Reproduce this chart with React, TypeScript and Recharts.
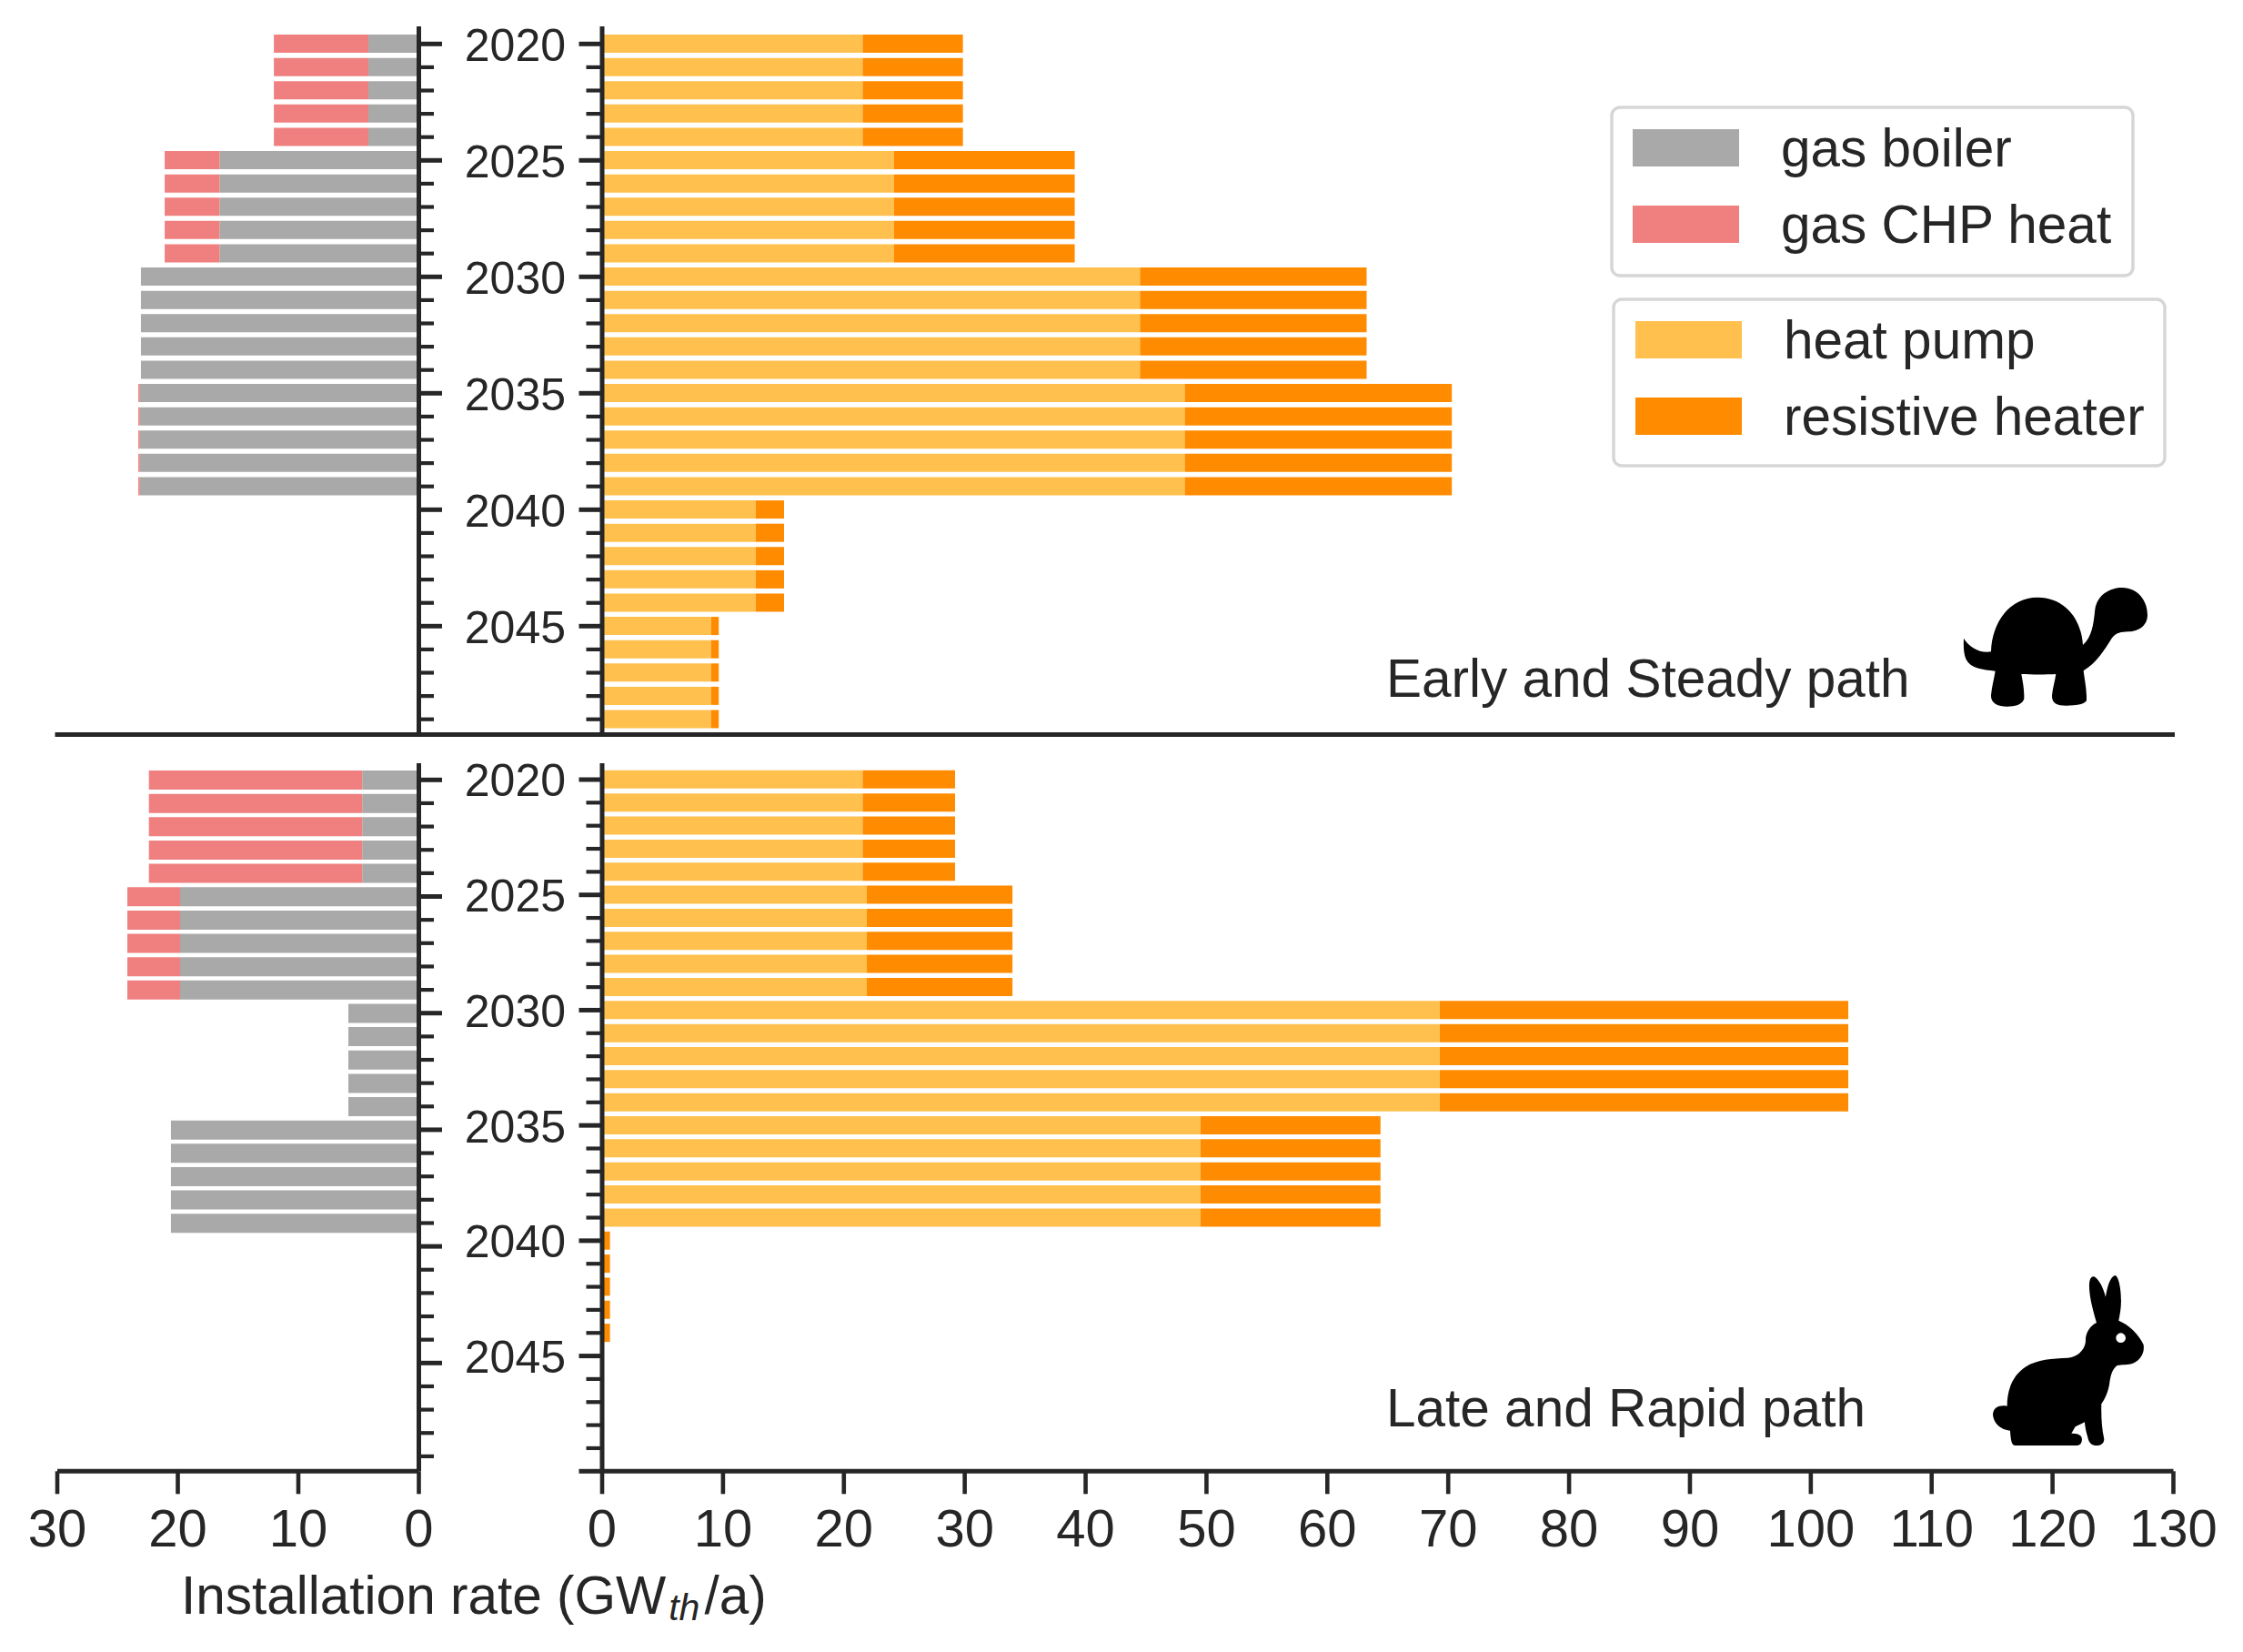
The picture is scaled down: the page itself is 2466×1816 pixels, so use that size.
import { BarChart, Bar, XAxis, YAxis } from "recharts";

const INK = "#262626";
const FONT = "'Liberation Sans', Arial, sans-serif";

const YEARS = [
	2020, 2021, 2022, 2023, 2024, 2025, 2026, 2027, 2028, 2029, 2030, 2031, 2032, 2033, 2034,
	2035, 2036, 2037, 2038, 2039, 2040, 2041, 2042, 2043, 2044, 2045, 2046, 2047, 2048, 2049,
];
const YEAR_TICKS = YEARS;
const YEAR_TICKS_TO_2050 = [...YEARS, 2050];
const LEFT_TICKS = [0, 10, 20, 30];
const RIGHT_TICKS = [0, 10, 20, 30, 40, 50, 60, 70, 80, 90, 100, 110, 120, 130];

// one value per five year period, 2020-24 up to 2045-49
const EARLY_BOILER = [4.19, 16.54, 23.06, 23.15, 0, 0];
const EARLY_CHP = [7.84, 4.55, 0, 0.13, 0, 0];
const EARLY_HEAT_PUMP = [21.55, 24.15, 44.5, 48.2, 12.7, 9.0];
const EARLY_RESISTIVE = [8.3, 14.95, 18.75, 22.1, 2.35, 0.65];

const LATE_BOILER = [4.7, 19.81, 5.85, 20.57, 0, 0];
const LATE_CHP = [17.7, 4.38, 0, 0, 0, 0];
const LATE_HEAT_PUMP = [21.55, 21.9, 69.3, 49.5, 0, 0];
const LATE_RESISTIVE = [7.65, 12.05, 33.8, 14.9, 0.65, 0];

const COLORS = {
	boiler: "#a9a9a9",
	chp: "#f08080",
	heatPump: "#ffc04d",
	resistive: "#ff8c00",
};

const GAS_LEGEND = [
	{ label: "gas boiler", color: COLORS.boiler },
	{ label: "gas CHP heat", color: COLORS.chp },
];
const ELECTRIC_LEGEND = [
	{ label: "heat pump", color: COLORS.heatPump },
	{ label: "resistive heater", color: COLORS.resistive },
];

function buildRows(a: number[], b: number[]) {
	return YEARS.map((year, i) => {
		const period = Math.floor(i / 5);
		return { year, first: a[period], second: b[period] };
	});
}

function LeftTick({ x, y, payload }: any) {
	const major = payload.value % 5 === 0;
	return (
		<line
			x1={x}
			x2={x + (major ? 25.5 : 16.5)}
			y1={y}
			y2={y}
			stroke={INK}
			strokeWidth={major ? 5 : 4.2}
		/>
	);
}

function RightTick({ x, y, payload }: any) {
	const major = payload.value % 5 === 0;
	return (
		<g>
			<line
				x1={x}
				x2={x - (major ? 25.5 : 17.5)}
				y1={y}
				y2={y}
				stroke={INK}
				strokeWidth={major ? 5 : 4.2}
			/>
			{major && payload.value < 2050 && (
				<text
					x={x - 40}
					y={y + 18.5}
					textAnchor="end"
					fontSize={50}
					fontFamily={FONT}
					fill={INK}
				>
					{payload.value}
				</text>
			)}
		</g>
	);
}

interface PanelProps {
	rows: { year: number; first: number; second: number }[];
	top: number;
	bottom: number;
	domain: [number, number];
	ticks: number[];
	colors: [string, string];
	names: [string, string];
	showX: boolean;
}

function LeftPanel({ rows, top, bottom, domain, ticks, colors, names, showX }: PanelProps) {
	const below = showX ? 110 : 10;
	return (
		<div style={{ position: "absolute", left: 23, top: top - 10 }}>
			<BarChart
				width={40 + 397.5 + 60}
				height={10 + bottom - top + below}
				data={rows}
				layout="vertical"
				barCategoryGap="10%"
				margin={{ top: 10, right: 0, bottom: showX ? 0 : 10, left: 40 }}
			>
				<XAxis
					type="number"
					domain={[0, 30]}
					ticks={LEFT_TICKS}
					reversed
					hide={!showX}
					height={showX ? 110 : 0}
					interval={0}
					tickSize={25}
					tickMargin={16.5}
					axisLine={{ stroke: INK, strokeWidth: 5 }}
					tickLine={{ stroke: INK, strokeWidth: 4.6 }}
					tick={{ fontSize: 58, fontFamily: FONT, fill: INK }}
				/>
				<YAxis
					type="number"
					dataKey="year"
					orientation="right"
					domain={domain}
					allowDataOverflow
					ticks={ticks}
					interval={0}
					width={60}
					tickSize={0}
					tickMargin={0}
					axisLine={{ stroke: INK, strokeWidth: 5 }}
					tickLine={false}
					tick={LeftTick}
				/>
				<Bar dataKey="first" name={names[0]} stackId="a" fill={colors[0]} isAnimationActive={false} />
				<Bar dataKey="second" name={names[1]} stackId="a" fill={colors[1]} isAnimationActive={false} />
			</BarChart>
		</div>
	);
}

function RightPanel({ rows, top, bottom, domain, ticks, colors, names, showX }: PanelProps) {
	const below = showX ? 110 : 10;
	return (
		<div style={{ position: "absolute", left: 461.5, top: top - 10 }}>
			<BarChart
				width={200 + 1727.5 + 50}
				height={10 + bottom - top + below}
				data={rows}
				layout="vertical"
				barCategoryGap="10%"
				margin={{ top: 10, right: 50, bottom: showX ? 0 : 10, left: 0 }}
			>
				<XAxis
					type="number"
					domain={[0, 130]}
					ticks={RIGHT_TICKS}
					hide={!showX}
					height={showX ? 110 : 0}
					interval={0}
					tickSize={25}
					tickMargin={16.5}
					axisLine={{ stroke: INK, strokeWidth: 5 }}
					tickLine={{ stroke: INK, strokeWidth: 4.6 }}
					tick={{ fontSize: 58, fontFamily: FONT, fill: INK }}
				/>
				<YAxis
					type="number"
					dataKey="year"
					domain={domain}
					allowDataOverflow
					ticks={ticks}
					interval={0}
					width={200}
					tickSize={0}
					tickMargin={0}
					axisLine={{ stroke: INK, strokeWidth: 5 }}
					tickLine={false}
					tick={RightTick}
				/>
				<Bar dataKey="first" name={names[0]} stackId="a" fill={colors[0]} isAnimationActive={false} />
				<Bar dataKey="second" name={names[1]} stackId="a" fill={colors[1]} isAnimationActive={false} />
			</BarChart>
		</div>
	);
}

function LegendBox({ items, x, y, width, height, swatchX, textX, firstTop }: any) {
	return (
		<g>
			<rect x={x} y={y} width={width} height={height} rx={9} fill="#fff" stroke="#d6d6d6" strokeWidth={3.5} />
			{items.map((item: any, i: number) => (
				<g key={item.label}>
					<rect x={swatchX} y={firstTop + i * 84} width={117} height={41} fill={item.color} />
					<text x={textX} y={firstTop + 41 + i * 84} fontSize={58.5} fontFamily={FONT} fill={INK}>
						{item.label}
					</text>
				</g>
			))}
		</g>
	);
}

function Overlay() {
	return (
		<svg
			width={2466}
			height={1816}
			style={{ position: "absolute", left: 0, top: 0, pointerEvents: "none" }}
		>
			<line x1={60.5} x2={2391} y1={807.5} y2={807.5} stroke={INK} strokeWidth={5} />
			<LegendBox
				items={GAS_LEGEND}
				x={1772}
				y={118}
				width={573}
				height={185}
				swatchX={1795}
				textX={1958}
				firstTop={142}
			/>
			<LegendBox
				items={ELECTRIC_LEGEND}
				x={1774}
				y={329}
				width={606}
				height={183}
				swatchX={1798}
				textX={1961}
				firstTop={353}
			/>
			<text x={1524} y={766} fontSize={58.5} fontFamily={FONT} fill={INK}>
				Early and Steady path
			</text>
			<text x={1524} y={1568} fontSize={58.5} fontFamily={FONT} fill={INK}>
				Late and Rapid path
			</text>
			<text x={199} y={1774} fontSize={58.5} fontFamily={FONT} fill={INK}>
				Installation rate (GW
				<tspan fontSize={41} fontStyle="italic" dx={3} dy={7}>
					th
				</tspan>
				<tspan dx={5} dy={-7}>/a)</tspan>
			</text>
			<g transform="translate(2050 600) scale(0.3333)">
				<path
					fill="#000"
					d="M327 305 C345 335 380 355 417 349 C420 250 480 170 570 170 C660 170 715 240 720 327 C750 300 755 260 760 210 C768 160 810 138 850 138 C900 138 933 180 933 228 C933 262 905 283 870 283 C845 285 830 285 815 305 C790 345 765 385 722 412 C725 440 733 470 732 510 C725 525 690 527 665 527 C635 527 618 520 618 495 C620 470 628 445 631 423 C600 425 550 425 517 423 C522 450 527 475 526 505 C520 525 495 530 470 530 C440 530 417 520 417 495 C418 470 427 440 431 413 C390 408 350 405 335 375 C326 355 326 330 327 305 Z"
				/>
			</g>
			<g transform="translate(2050 1380) scale(0.3333)">
				<path
					fill="#000"
					d="M765 222 C750 170 740 130 741 95 C742 75 750 67 757 70 C775 80 788 110 795 137 C800 105 810 70 826 66 C838 68 846 110 846 150 C846 175 842 195 838 215 C870 228 905 260 920 295 C925 325 905 350 880 358 C860 362 840 360 830 365 C815 380 812 395 808 420 C805 445 795 470 781 490 C780 530 782 570 790 605 C790 620 780 627 765 627 C750 627 740 620 736 600 C730 580 727 565 726 550 L695 565 L682 587 C700 587 715 590 717 605 C717 620 710 627 700 627 L497 627 C485 627 482 610 480 578 C450 575 425 555 423 525 C425 500 445 493 470 497 C470 440 490 395 530 368 C570 342 620 340 670 338 C700 335 725 315 729 285 C727 255 745 232 765 222 Z"
				/>
				<circle cx={845} cy={272} r={16} fill="#fff" />
			</g>
		</svg>
	);
}

export default function App() {
	const gasNames: [string, string] = ["gas boiler", "gas CHP heat"];
	const elecNames: [string, string] = ["heat pump", "resistive heater"];
	const gasColors: [string, string] = [COLORS.boiler, COLORS.chp];
	const elecColors: [string, string] = [COLORS.heatPump, COLORS.resistive];
	return (
		<div style={{ position: "absolute", left: 0, top: 0, width: 2466, height: 1816, background: "#fff" }}>
			<LeftPanel
				rows={buildRows(EARLY_BOILER, EARLY_CHP)}
				top={29}
				bottom={807}
				domain={[2019.246, 2049.636]}
				ticks={YEAR_TICKS}
				colors={gasColors}
				names={gasNames}
				showX={false}
			/>
			<RightPanel
				rows={buildRows(EARLY_HEAT_PUMP, EARLY_RESISTIVE)}
				top={29}
				bottom={807}
				domain={[2019.246, 2049.636]}
				ticks={YEAR_TICKS}
				colors={elecColors}
				names={elecNames}
				showX={false}
			/>
			<LeftPanel
				rows={buildRows(LATE_BOILER, LATE_CHP)}
				top={839}
				bottom={1617.3}
				domain={[2019.286, 2049.64]}
				ticks={YEAR_TICKS}
				colors={gasColors}
				names={gasNames}
				showX
			/>
			<RightPanel
				rows={buildRows(LATE_HEAT_PUMP, LATE_RESISTIVE)}
				top={839}
				bottom={1617.3}
				domain={[2019.29, 2050]}
				ticks={YEAR_TICKS_TO_2050}
				colors={elecColors}
				names={elecNames}
				showX
			/>
			<Overlay />
		</div>
	);
}
